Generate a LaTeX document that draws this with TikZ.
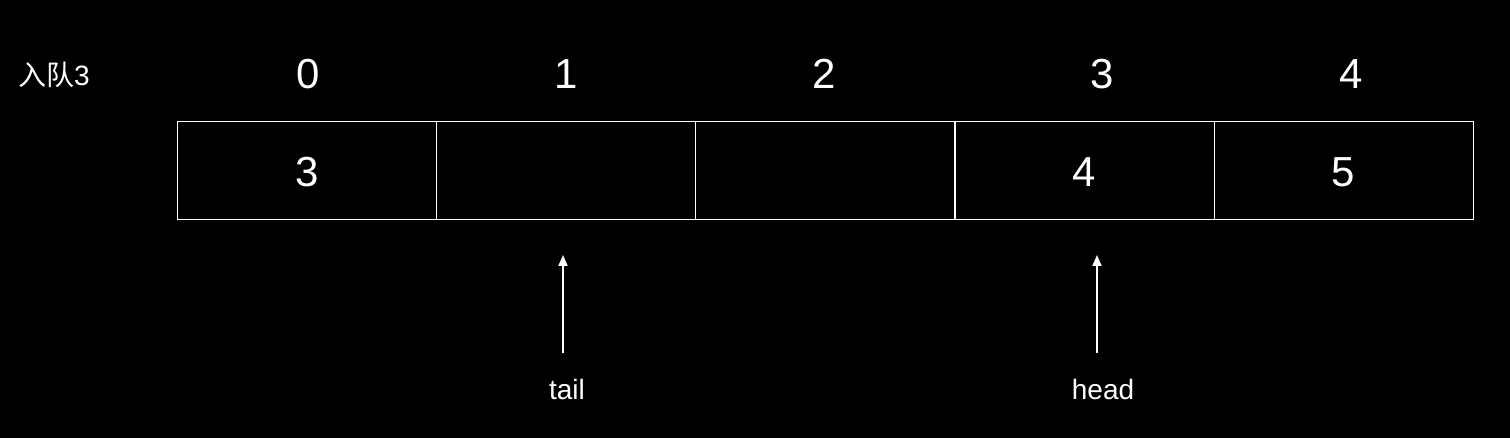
\documentclass[tikz,border=0pt]{standalone}
\usepackage{fontspec}
\setmainfont{Liberation Sans}
\newfontfamily\cjk{Noto Sans CJK SC}
\usetikzlibrary{arrows.meta}
\begin{document}
\begin{tikzpicture}[x=1pt,y=-1pt,
  cell/.style={draw=white,line width=1.3pt,minimum width=259pt,minimum height=98pt,inner sep=0pt,anchor=north west},
  val/.style={text=white,inner sep=0pt,font=\fontsize{42}{48}\selectfont},
  idx/.style={text=white,inner sep=0pt,font=\fontsize{42}{48}\selectfont},
  lbl/.style={text=white,inner sep=0pt,font=\fontsize{28}{32}\selectfont},
  ptr/.style={draw=white,line width=1.8pt,-{Triangle[length=11pt,width=9pt]}}]
\fill[black] (0,0) rectangle (1510,438);
\useasboundingbox (0,0) rectangle (1510,438);
\node[lbl] (title) at (54,75) {{\cjk 入队}3};
\node[cell] (c0) at (177,121) {};
\node[cell] (c1) at (436,121) {};
\node[cell] (c2) at (695,121) {};
\node[cell] (c3) at (955,121) {};
\node[cell] (c4) at (1214,121) {};
\node[val] (v0) at (307,172) {3};
\node[val] (v3) at (1084,172) {4};
\node[val] (v4) at (1343,172) {5};
\node[idx] (i0) at (308,74) {0};
\node[idx] (i1) at (566,74) {1};
\node[idx] (i2) at (824,74) {2};
\node[idx] (i3) at (1102,74) {3};
\node[idx] (i4) at (1351,74) {4};
\node[lbl] (tail) at (567,389) {tail};
\node[lbl] (head) at (1103,389) {head};
\coordinate (ta) at (563,353);
\coordinate (tb) at (563,255);
\coordinate (ha) at (1097,353);
\coordinate (hb) at (1097,255);
\draw[ptr] (ta) -- (tb);
\draw[ptr] (ha) -- (hb);
\end{tikzpicture}
\end{document}
